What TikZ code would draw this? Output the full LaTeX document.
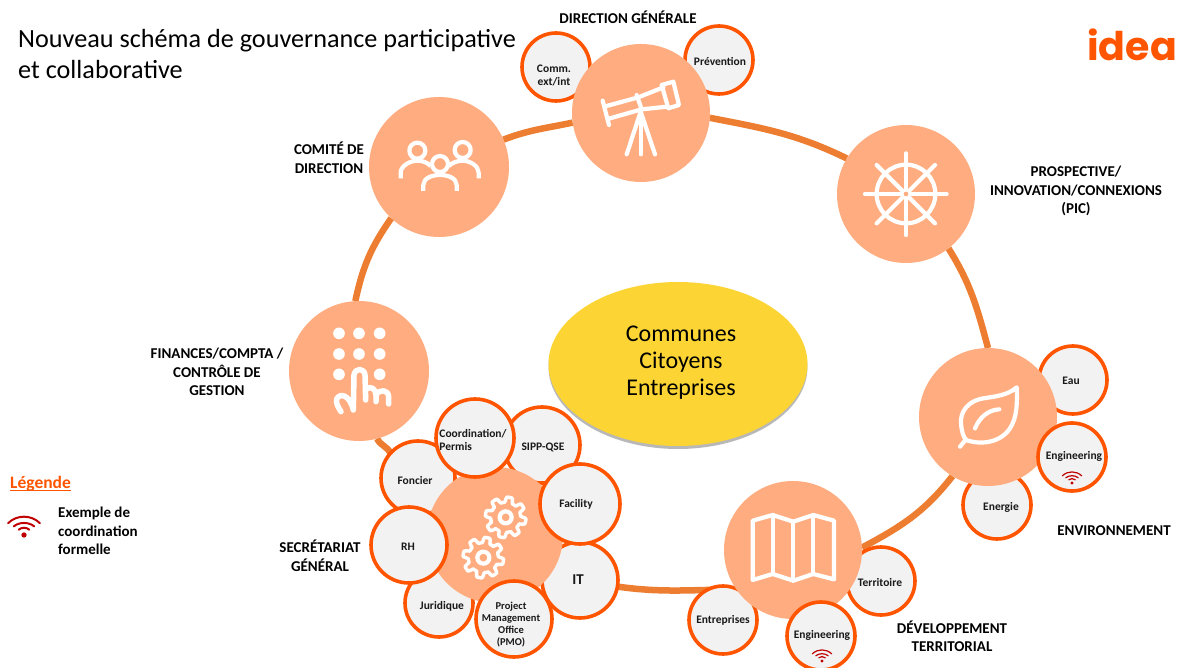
\documentclass[tikz,border=0pt]{standalone}
\usepackage{fontspec}
\setmainfont{Carlito}
\newfontfamily\logofont{Poppins}
\usetikzlibrary{backgrounds,shadows,shapes.geometric,calc}
\definecolor{mainc}{HTML}{FFAD80}
\definecolor{ringc}{HTML}{ED7D31}
\definecolor{satc}{HTML}{FF5500}
\definecolor{satf}{HTML}{F2F2F2}
\definecolor{yel}{HTML}{FCD535}
\definecolor{wifc}{HTML}{C00000}
\tikzset{
  x=1pt,y=1pt,
  mainnode/.style={circle,fill=mainc,inner sep=0,outer sep=0,minimum size=#1*2pt},
  satnode/.style={circle,draw=satc,fill=satf,line width=3.6pt,inner sep=0,outer sep=0,minimum size=#1*2pt},
  sattext/.style={font=\bfseries\fontsize{#1}{13}\selectfont,align=center,inner sep=0,text=black!90,yshift=-1pt},
  lab/.style={font=\bfseries\fontsize{15}{18.5}\selectfont,align=center,inner sep=0,text=black},
  ring/.style={draw=ringc,line width=6.5pt},
  ico/.style={draw=white,line width=4.2pt,line cap=round,line join=round},
}
\newcommand{\satc}[8][11.5]{%
  \node[satnode=#5] (#2) at (#3,-#4) {};
  \node[sattext=#1] (#2-t) at (#6,-#7) {#8};
}
\newcommand{\wifiicon}[3]{%
  \begin{scope}[shift={(#1,-#2)},xscale=#3,yscale=-#3,draw=wifc,line cap=round]
    \fill[wifc] (0,0) circle (8);
    \draw[line width=#3*6pt] (-16,-16) .. controls (-8,-24) and (8,-24) .. (16,-16);
    \draw[line width=#3*6pt] (-31,-26) .. controls (-15,-40) and (15,-40) .. (31,-26);
    \draw[line width=#3*6pt] (-48,-36) .. controls (-22,-62) and (22,-62) .. (48,-36);
  \end{scope}%
}
\newcommand{\gearicon}[2]{%
  \begin{scope}[shift={(360,-390)},xscale=1/3,yscale=-1/3,shift={(#1,#2)}]
    \draw[draw=white,fill=mainc,line width=3.4pt,line join=round] plot[domain=0:360,samples=181,smooth] ({\x}:{53+8*max(-1,min(1,2.2*sin(8*\x)))}) -- cycle;
    \draw[white,line width=4.2pt] (0,0) circle (18);
  \end{scope}%
}
\begin{document}
\begin{tikzpicture}
\useasboundingbox (0,0) rectangle (1181,-668);
\clip (0,0) rectangle (1181,-668);

% Centre
\node[ellipse,fill=yel,inner sep=0,outer sep=0,minimum width=259pt,minimum height=164pt,
  general shadow={fill=black!55,opacity=.5,shadow xshift=0pt,shadow yshift=-3pt}] (centre) at (678,-364) {};
\node[font=\fontsize{24}{27}\selectfont,align=center,inner sep=0] (centre-t) at (681,-363) {Communes\\Citoyens\\Entreprises};

% Direction generale
\satc{comm}{556}{67}{34}{554}{74}{Comm.\\ext/int}
\satc{prev}{719}{60}{34}{720}{61}{Prévention}
\node[mainnode=69] (dg) at (641,-113) {};
% Comite
\node[mainnode=70] (cd) at (439,-167) {};
% PIC
\node[mainnode=69] (pic) at (906,-194) {};
% Finances
\node[mainnode=70] (fin) at (359,-371) {};
% Environnement
\satc{eau}{1073}{380}{34}{1071}{380}{Eau}
\satc{ener}{997}{505}{34}{1001}{506}{Energie}
\node[mainnode=69] (env) at (988,-417) {};
\satc{engA}{1072}{457}{34}{1074}{455}{Engineering}
\wifiicon{1072}{483}{0.2}
% Developpement territorial
\satc{terr}{881}{581}{34}{880}{582}{Territoire}
\satc{entr}{723}{620}{34}{723}{619}{Entreprises}
\node[mainnode=69] (dt) at (793,-550) {};
\satc{engB}{821}{636}{34}{822}{634}{Engineering}
\wifiicon{822}{661}{0.2}
% Secretariat general
\satc{fonc}{418}{478}{37}{415}{480}{Foncier}
\satc{sipp}{542}{445}{38}{543}{446}{SIPP-QSE}
\satc{juri}{439}{603}{34}{442}{605}{Juridique}
\satc[15]{it}{580}{580}{38}{578}{579}{IT}
\node[mainnode=68] (sg) at (495,-535) {};
\satc{coord}{475}{438}{39}{473}{440}{\begin{tabular}{@{}l@{}}Coordination/\\Permis\end{tabular}}
\satc{faci}{580}{504}{40}{576}{503}{Facility}
\satc{rh}{409}{545}{38}{408}{546}{RH}
\satc[10.5]{pmo}{514}{619}{38}{511}{624}{Project\\[-1pt]Management\\[-1pt]Office\\[-1pt](PMO)}

% Ring
\begin{scope}[on background layer]
  \fill[white] (0,0) rectangle (1181,-668);
  \draw[ring] (dg.-4) to[out=-11,in=154] (pic.149);
  \draw[ring] (pic.-52) to[out=-58,in=105] (env.90);
  \draw[ring] (env.-121) to[out=-128,in=28] (dt.2);
  \draw[ring] (dt.215) to[out=180,in=-8] (it.-10);
  \draw[ring] (fonc.138) to[out=115,in=-65] (fin.-75);
  \draw[ring] (fin.93) to[out=78,in=-125] (cd.-133);
  \draw[ring] (cd.23) to[out=21,in=192] (dg.188);
\end{scope}

% Icon: telescope
\begin{scope}[shift={(510,-10)},xscale=1/3,yscale=-1/3,ico]
  \draw (278,272) -- (297,345);
  \draw (290,288) -- (385,262) -- (460,232);
  \draw (300,325) -- (395,298) -- (472,290);
  \draw (380,255) -- (395,298);
  \draw (455,225) -- (490,215) -- (507,285) -- (475,295) -- cycle;
  \draw (392,305) -- (350,433);
  \draw (392,305) -- (392,433);
  \draw (392,305) -- (435,433);
\end{scope}
% Icon: people
\begin{scope}[shift={(360,-90)},xscale=1/3,yscale=-1/3,ico,line cap=butt]
  \draw (172,182) circle (24);
  \draw (308,180) circle (24);
  \draw (240,222) circle (24);
  \draw (122,265) -- (122,248) .. controls (122,228) and (150,212) .. (172,212) .. controls (188,212) and (203,218) .. (212,228);
  \draw (356,265) -- (356,248) .. controls (356,228) and (330,212) .. (308,212) .. controls (292,212) and (277,218) .. (266,228);
  \draw (190,303) -- (190,285) .. controls (190,265) and (215,255) .. (240,255) .. controls (265,255) and (290,265) .. (290,285) -- (290,303);
\end{scope}
% Icon: wheel
\begin{scope}[shift={(825,-120)},xscale=1/3,yscale=-1/3,ico]
  \draw (243,222) circle (88);
  \draw (243,100) -- (243,345);
  \draw (120,222) -- (365,222);
  \draw (155,135) -- (330,310);
  \draw (330,135) -- (155,310);
  \fill[white] (243,222) circle (15);
  \fill[mainc] (243,222) circle (7);
\end{scope}
% Icon: keypad
\begin{scope}[shift={(285,-295)},xscale=1/3,yscale=-1/3,ico]
  \foreach \px in {162,222,284} \foreach \py in {115,177} \fill[white] (\px,\py) circle (17.5);
  \fill[white] (162,238) circle (17.5);
  \fill[white] (284,238) circle (17.5);
  \draw[line width=5.5pt] (168,350) .. controls (158,335) and (152,322) .. (155,312) .. controls (165,292) and (195,300) .. (205,345) -- (207,240) .. controls (210,218) and (238,218) .. (240,240) -- (242,315);
  \draw[line width=5.5pt] (242,285) .. controls (255,270) and (272,280) .. (273,300) -- (273,320);
  \draw[line width=5.5pt] (273,300) .. controls (285,280) and (310,285) .. (311,305) -- (311,327);
\end{scope}
% Icon: leaf
\begin{scope}[shift={(900,-330)},xscale=1/3,yscale=-1/3,ico]
  \draw (350,172) .. controls (325,195) and (285,200) .. (250,205) .. controls (205,212) and (180,245) .. (183,280) .. controls (185,305) and (190,320) .. (198,330) .. controls (240,345) and (300,340) .. (330,295) .. controls (352,262) and (352,215) .. (350,172) -- cycle;
  \draw (180,350) -- (198,328);
  \draw (225,295) .. controls (240,260) and (265,240) .. (298,238);
\end{scope}
% Icon: map
\begin{scope}[shift={(680,-480)},xscale=1/3,yscale=-1/3,ico]
  \draw (218,122) -- (278,105) -- (340,125) -- (400,105) -- (462,122) -- (462,298) -- (400,282) -- (340,302) -- (278,282) -- (218,300) -- cycle;
  \draw (278,105) -- (278,282);
  \draw (340,125) -- (340,302);
  \draw (400,105) -- (400,282);
\end{scope}
% Icon: gears
\gearicon{437}{382}
\gearicon{370}{503}

% Labels
\node[anchor=base west,inner sep=0,font=\fontsize{26.2}{26}\selectfont] (title1) at (18,-48) {Nouveau schéma de gouvernance participative};
\node[anchor=base west,inner sep=0,font=\fontsize{26.2}{26}\selectfont] (title2) at (18,-79) {et collaborative};
\node[anchor=base west,inner sep=0,text=satc,font=\logofont\bfseries\fontsize{39.5}{40}\selectfont] (logo) at (1087,-61) {idea};
\node[lab] (lDG) at (628,-17) {DIRECTION GÉNÉRALE};
\node[lab] (lCD) at (329,-158) {COMITÉ DE\\DIRECTION};
\node[lab] (lPIC) at (1076,-191) {PROSPECTIVE/\\INNOVATION/CONNEXIONS\\(PIC)};
\node[lab] (lFin) at (217,-372) {FINANCES/COMPTA /\\CONTRÔLE DE\\GESTION};
\node[lab] (lSG) at (320,-556) {SECRÉTARIAT\\GÉNÉRAL};
\node[lab] (lEnv) at (1114,-531) {ENVIRONNEMENT};
\node[lab] (lDT) at (952,-636) {DÉVELOPPEMENT\\TERRITORIAL};
\node[anchor=base west,inner sep=0,text=satc,font=\bfseries\fontsize{17.5}{18}\selectfont] (leg) at (10,-488) {Légende};
\draw[satc,line width=1.3pt] ($(leg.base west)+(0,-2.5)$) -- ($(leg.base east)+(0,-2.5)$);
\wifiicon{24}{535}{0.33}
\node[anchor=north west,inner sep=0,align=left,font=\bfseries\fontsize{15}{18.5}\selectfont] (legt) at (58,-507) {Exemple de\\coordination\\formelle};
\end{tikzpicture}
\end{document}
